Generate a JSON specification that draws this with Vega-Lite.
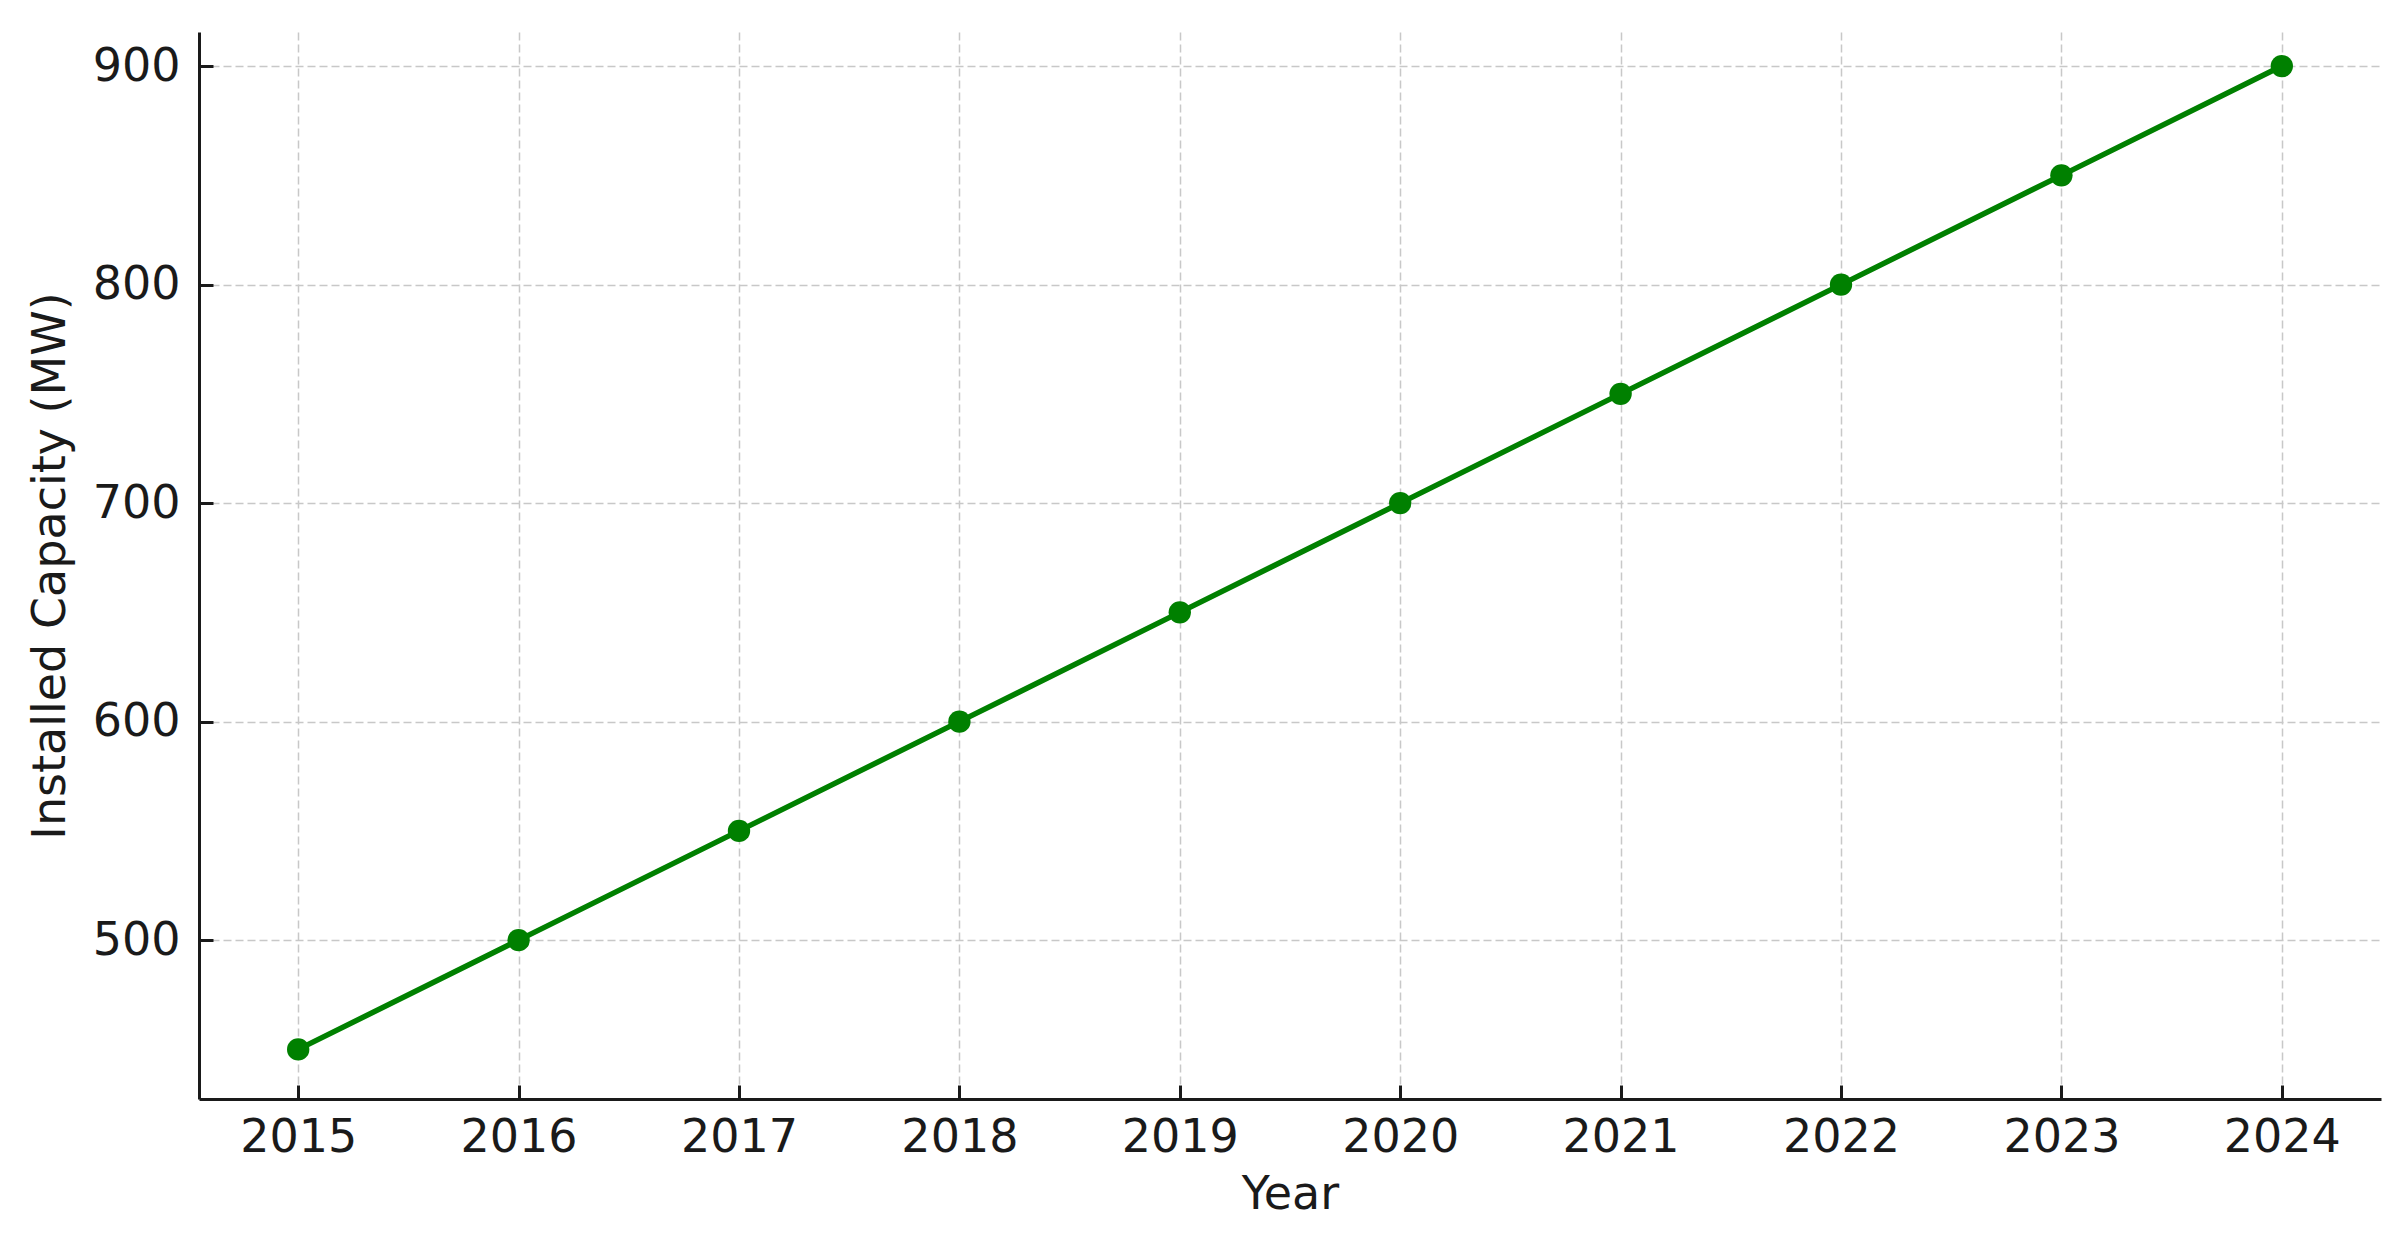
{
  "$schema": "https://vega.github.io/schema/vega-lite/v6.json",
  "width": 2182,
  "height": 1067,
  "autosize": {"type": "none"},
  "padding": {"left": 199, "top": 32, "right": 27, "bottom": 138},
  "background": "white",
  "config": {
    "view": {"stroke": null},
    "font": "DejaVu Sans",
    "axis": {
      "labelFont": "DejaVu Sans",
      "titleFont": "DejaVu Sans",
      "labelFontSize": 46,
      "titleFontSize": 46,
      "labelColor": "#1a1a1a",
      "titleColor": "#1a1a1a",
      "titleFontWeight": "normal",
      "domainColor": "#1a1a1a",
      "domainWidth": 3,
      "tickColor": "#1a1a1a",
      "tickWidth": 3,
      "tickSize": -14,
      "gridColor": "#c8c8c8",
      "gridWidth": 1.5,
      "gridDash": [8, 4]
    }
  },
  "data": {
    "values": [
      {"year": 2015, "capacity": 450},
      {"year": 2016, "capacity": 500},
      {"year": 2017, "capacity": 550},
      {"year": 2018, "capacity": 600},
      {"year": 2019, "capacity": 650},
      {"year": 2020, "capacity": 700},
      {"year": 2021, "capacity": 750},
      {"year": 2022, "capacity": 800},
      {"year": 2023, "capacity": 850},
      {"year": 2024, "capacity": 900}
    ]
  },
  "encoding": {
    "x": {
      "field": "year",
      "type": "quantitative",
      "scale": {"domain": [2014.55, 2024.45], "nice": false, "zero": false},
      "axis": {
        "title": "Year",
        "values": [2015, 2016, 2017, 2018, 2019, 2020, 2021, 2022, 2023, 2024],
        "format": "d",
        "labelPadding": 30,
        "titlePadding": 12,
        "labelFlush": false,
        "labelOverlap": false
      }
    },
    "y": {
      "field": "capacity",
      "type": "quantitative",
      "scale": {"domain": [427.3, 915.6], "nice": false, "zero": false},
      "axis": {
        "title": "Installed Capacity (MW)",
        "values": [500, 600, 700, 800, 900],
        "format": "d",
        "labelPadding": 33,
        "titlePadding": 18,
        "labelFlush": false,
        "labelOverlap": false
      }
    }
  },
  "layer": [
    {"mark": {"type": "line", "color": "#008000", "strokeWidth": 5.5}},
    {"mark": {"type": "point", "filled": true, "shape": "circle", "color": "#008000", "opacity": 1, "size": 500}}
  ]
}
